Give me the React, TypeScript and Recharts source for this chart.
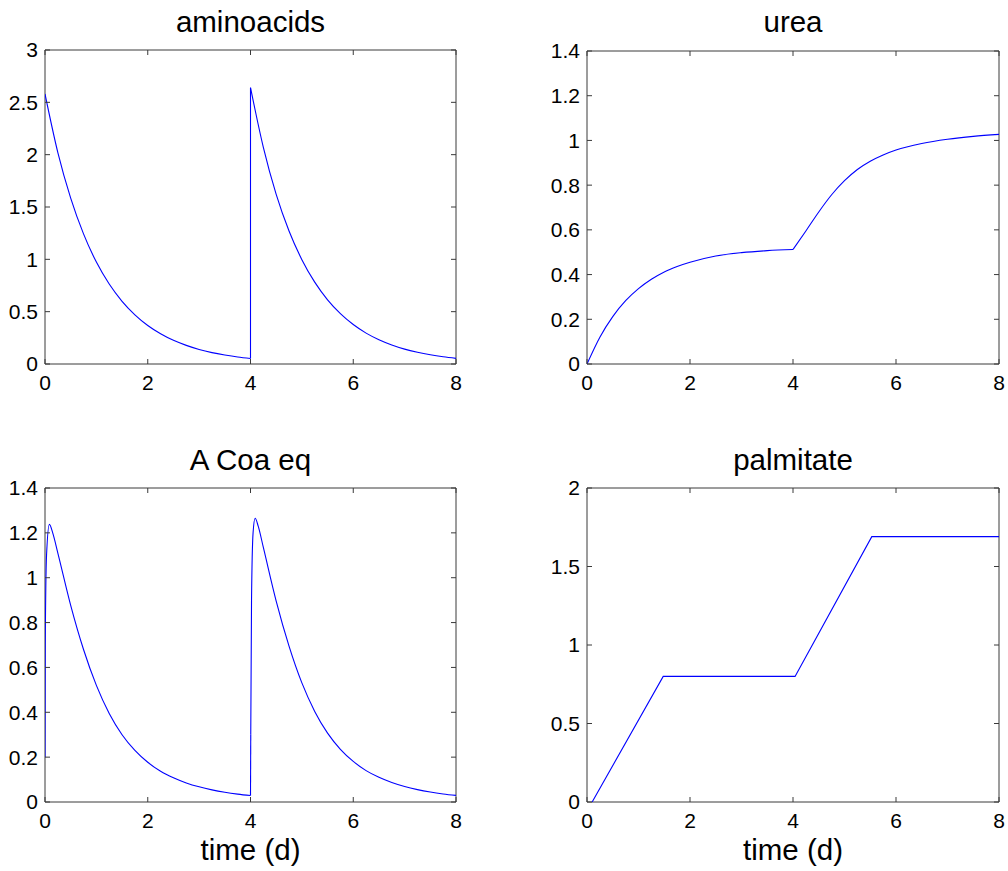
import React from 'react';
import { LineChart, Line, XAxis, YAxis, ReferenceArea } from 'recharts';

// ---------- data ----------
const xTicks = [0, 2, 4, 6, 8];
const aminoTicks = [0, 0.5, 1, 1.5, 2, 2.5, 3];
const ureaTicks = [0, 0.2, 0.4, 0.6, 0.8, 1, 1.2, 1.4];
const acoaTicks = [0, 0.2, 0.4, 0.6, 0.8, 1, 1.2, 1.4];
const palmTicks = [0, 0.5, 1, 1.5, 2];

const aminoTime1 = [0, 0.25, 0.5, 0.75, 1, 1.25, 1.5, 1.75, 2, 2.25, 2.5, 2.75, 3, 3.25, 3.5, 3.75, 4];
const aminoVal1 = [2.58, 2.02, 1.585, 1.243, 0.974, 0.764, 0.599, 0.47, 0.368, 0.289, 0.226, 0.178, 0.139, 0.109, 0.086, 0.067, 0.053];
const aminoTime2 = [4, 4.25, 4.5, 4.75, 5, 5.25, 5.5, 5.75, 6, 6.25, 6.5, 6.75, 7, 7.25, 7.5, 7.75, 8];
const aminoVal2 = [2.64, 2.07, 1.62, 1.27, 0.997, 0.782, 0.613, 0.481, 0.377, 0.295, 0.232, 0.182, 0.142, 0.112, 0.088, 0.069, 0.054];

const ureaTime1 = [0, 0.25, 0.5, 0.75, 1, 1.25, 1.5, 1.75, 2, 2.5, 3, 3.5, 4];
const ureaVal1 = [0, 0.12, 0.212, 0.283, 0.337, 0.379, 0.412, 0.436, 0.455, 0.483, 0.498, 0.507, 0.512];
const ureaTime2 = [4, 4.25, 4.5, 4.75, 5, 5.25, 5.5, 5.75, 6, 6.5, 7, 7.5, 8];
const ureaVal2 = [0.512, 0.595, 0.68, 0.757, 0.82, 0.87, 0.907, 0.935, 0.957, 0.986, 1.005, 1.018, 1.027];

const acoaTime1 = [0, 0.005, 0.03, 0.085, 0.15, 0.25, 0.5, 0.75, 1, 1.25, 1.5, 1.75, 2, 2.25, 2.5, 2.75, 3, 3.25, 3.5, 3.75, 4];
const acoaVal1 = [0.2, 0.7, 1.1, 1.238, 1.2, 1.11, 0.877, 0.68, 0.52, 0.395, 0.3, 0.23, 0.177, 0.137, 0.108, 0.085, 0.0676, 0.0541, 0.0435, 0.0352, 0.0287];
const acoaTime2 = [4.005, 4.02, 4.05, 4.09, 4.15, 4.25, 4.5, 4.75, 5, 5.25, 5.5, 5.75, 6, 6.25, 6.5, 6.75, 7, 7.25, 7.5, 7.75, 8];
const acoaVal2 = [0.3, 0.9, 1.2, 1.265, 1.23, 1.135, 0.896, 0.695, 0.531, 0.404, 0.307, 0.235, 0.181, 0.14, 0.11, 0.087, 0.069, 0.0553, 0.0445, 0.036, 0.0293];

const palmTime = [0.1, 1.48, 4.04, 5.53, 8];
const palmVal = [0, 0.8, 0.8, 1.69, 1.69];

// ---------- helpers ----------
const zip = (ts: number[], vs: number[]) => ts.map((t, i) => ({ t, v: vs[i] }));

const FONT = '"Liberation Sans", Arial, Helvetica, sans-serif';
const AXC = '#3a3a3a';
const BLUE = '#0000ff';
const YW = 40;
const XH = 30;
const XM = 11;
const YM = 7;
const TICK_FS = 21;
const TITLE_FS = 29.5;

type Seg = { t: number; v: number }[];

interface PanelProps {
  box: [number, number, number, number];
  plot: [number, number, number, number];
  yMax: number;
  yTicks: number[];
  segments: Seg[];
  title: string;
  titleBase: number;
  xlabel?: string;
}

function Caption({ left, width, base, text }: { left: number; width: number; base: number; text: string }) {
  return (
    <div
      style={{
        position: 'absolute',
        left,
        width,
        top: base - 0.846 * TITLE_FS,
        textAlign: 'center',
        fontFamily: FONT,
        fontSize: TITLE_FS,
        lineHeight: `${TITLE_FS}px`,
        color: '#000',
        whiteSpace: 'nowrap',
      }}
    >
      {text}
    </div>
  );
}

function Panel({ box, plot, yMax, yTicks, segments, title, titleBase, xlabel }: PanelProps) {
  const [bx, by, bw, bh] = box;
  const [px, py, pw, ph] = plot;
  const margin = {
    left: px - bx - YW,
    top: py - by,
    right: bx + bw - (px + pw),
    bottom: by + bh - (py + ph) - XH,
  };
  const xTick = (props: any) => {
    const { x, y, payload } = props;
    const ay = y - XM;
    return (
      <g>
        <line x1={x} x2={x} y1={ay} y2={ay - 5} stroke={AXC} strokeWidth={1} />
        <line x1={x} x2={x} y1={ay - ph} y2={ay - ph + 5} stroke={AXC} strokeWidth={1} />
        <text x={x} y={y} dy="0.71em" textAnchor="middle" fontSize={TICK_FS} fontFamily={FONT} fill="#000">
          {payload.value}
        </text>
      </g>
    );
  };
  const yTick = (props: any) => {
    const { x, y, payload } = props;
    const ax = x + YM;
    return (
      <g>
        <line x1={ax} x2={ax + 5} y1={y} y2={y} stroke={AXC} strokeWidth={1} />
        <line x1={ax + pw - 5} x2={ax + pw} y1={y} y2={y} stroke={AXC} strokeWidth={1} />
        <text x={x} y={y} dy="0.355em" textAnchor="end" fontSize={TICK_FS} fontFamily={FONT} fill="#000">
          {payload.value}
        </text>
      </g>
    );
  };
  return (
    <>
      <div style={{ position: 'absolute', left: bx, top: by, width: bw, height: bh }}>
        <LineChart width={bw} height={bh} margin={margin}>
          <XAxis
            type="number"
            dataKey="t"
            domain={[0, 8]}
            ticks={xTicks}
            allowDataOverflow
            axisLine={false}
            tickLine={false}
            tickSize={0}
            tickMargin={XM}
            height={XH}
            tick={xTick}
            interval={0}
          />
          <YAxis
            type="number"
            dataKey="v"
            domain={[0, yMax]}
            ticks={yTicks}
            allowDataOverflow
            axisLine={false}
            tickLine={false}
            tickSize={0}
            tickMargin={YM}
            width={YW}
            tick={yTick}
            interval={0}
          />
          <ReferenceArea x1={0} x2={8} y1={0} y2={yMax} fill="none" stroke={AXC} strokeWidth={1} />
          {segments.map((s, i) => (
            <Line
              key={i}
              data={s}
              dataKey="v"
              type={s.length > 2 && segments.length > 1 ? 'monotone' : 'linear'}
              stroke={BLUE}
              strokeWidth={1.1}
              dot={false}
              activeDot={false}
              isAnimationActive={false}
            />
          ))}
        </LineChart>
      </div>
      <Caption left={px} width={pw} base={titleBase} text={title} />
      {xlabel && <Caption left={px} width={pw} base={860} text={xlabel} />}
    </>
  );
}

export default function App() {
  const amino1 = zip(aminoTime1, aminoVal1);
  const amino2 = zip(aminoTime2, aminoVal2);
  const aminoJump = [amino1[amino1.length - 1], amino2[0]];
  const urea1 = zip(ureaTime1, ureaVal1);
  const urea2 = zip(ureaTime2, ureaVal2);
  const acoa1 = zip(acoaTime1, acoaVal1);
  const acoa2 = zip(acoaTime2, acoaVal2);
  const acoaJump = [acoa1[acoa1.length - 1], acoa2[0]];
  const palm = zip(palmTime, palmVal);

  return (
    <div style={{ position: 'absolute', left: 0, top: 0, width: 1008, height: 871, background: '#fff', overflow: 'hidden' }}>
      <Panel
        box={[0, 0, 504, 435]}
        plot={[45, 50, 411, 314]}
        yMax={3}
        yTicks={aminoTicks}
        segments={[amino1, aminoJump, amino2]}
        title="aminoacids"
        titleBase={32}
      />
      <Panel
        box={[504, 0, 504, 435]}
        plot={[587, 51, 412, 313]}
        yMax={1.4}
        yTicks={ureaTicks}
        segments={[urea1, urea2]}
        title="urea"
        titleBase={32}
      />
      <Panel
        box={[0, 435, 504, 436]}
        plot={[45, 488, 411, 314]}
        yMax={1.4}
        yTicks={acoaTicks}
        segments={[acoa1, acoaJump, acoa2]}
        title="A Coa eq"
        titleBase={470}
        xlabel="time (d)"
      />
      <Panel
        box={[504, 435, 504, 436]}
        plot={[587, 488, 412, 314]}
        yMax={2}
        yTicks={palmTicks}
        segments={[palm]}
        title="palmitate"
        titleBase={470}
        xlabel="time (d)"
      />
    </div>
  );
}
